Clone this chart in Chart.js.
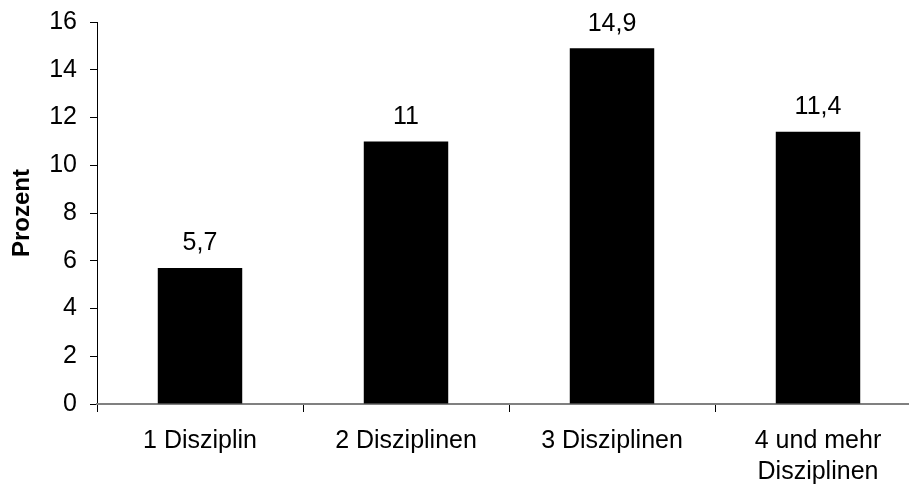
<!DOCTYPE html>
<html>
<head>
<meta charset="utf-8">
<script src="https://cdn.jsdelivr.net/npm/chart.js@4"></script>
<style>
  html, body { margin: 0; padding: 0; background: #fff; overflow: hidden; }
  #wrap { width: 930px; height: 485px; position: relative; }
</style>
</head>
<body>
<div id="wrap"><canvas id="chart"></canvas></div>
<script>
// categories and values (percent)
const categories = ["1 Disziplin", "2 Disziplinen", "3 Disziplinen", ["4 und mehr", "Disziplinen"]];
const values = [5.7, 11, 14.9, 11.4];
const yTicks = [0, 2, 4, 6, 8, 10, 12, 14, 16];

const FONT = 'Arial, "Liberation Sans", sans-serif';

// draws the value above each bar, German decimal comma
const valueLabels = {
  id: "valueLabels",
  afterDatasetsDraw(chart) {
    const ctx = chart.ctx;
    const meta = chart.getDatasetMeta(0);
    ctx.save();
    ctx.font = "25px " + FONT;
    ctx.fillStyle = "#000";
    ctx.textAlign = "center";
    ctx.textBaseline = "bottom";
    meta.data.forEach(function (bar, i) {
      const txt = String(values[i]).replace(".", ",");
      ctx.fillText(txt, bar.x, bar.y - 12);
    });
    ctx.restore();
  },
};

new Chart(document.getElementById("chart").getContext("2d"), {
  type: "bar",
  data: {
    labels: categories,
    datasets: [
      {
        data: values,
        backgroundColor: "#000",
        borderWidth: 0,
        barPercentage: 0.41,
        categoryPercentage: 1,
      },
    ],
  },
  options: {
    responsive: true,
    maintainAspectRatio: false,
    animation: false,
    layout: { padding: { top: 22, right: 9, left: 0, bottom: 0 } },
    plugins: {
      legend: { display: false },
      tooltip: { enabled: false },
    },
    scales: {
      y: {
        min: 0,
        max: 16,
        afterBuildTicks: function (scale) {
          scale.ticks = yTicks.map(function (v) { return { value: v }; });
        },
        afterFit: function (scale) {
          scale.width = 97;
          scale.paddingTop = 0;
          scale.paddingBottom = 0;
        },
        border: { color: "#000", width: 1 },
        grid: { drawOnChartArea: false, tickLength: 7, color: "#000" },
        ticks: {
          color: "#000",
          padding: 13,
          font: { family: FONT, size: 25 },
        },
        title: {
          display: true,
          text: "Prozent",
          color: "#000",
          padding: { top: 8, bottom: 0 },
          font: { family: FONT, size: 24, weight: "bold" },
        },
      },
      x: {
        afterFit: function (scale) { scale.height = 81; },
        border: { color: "#808080", width: 2 },
        grid: { drawOnChartArea: false, tickLength: 8, color: "#000", offset: true },
        ticks: {
          color: "#000",
          padding: 13,
          maxRotation: 0,
          autoSkip: false,
          font: { family: FONT, size: 25, lineHeight: 1.25 },
        },
      },
    },
  },
  plugins: [valueLabels],
});
</script>
</body>
</html>
